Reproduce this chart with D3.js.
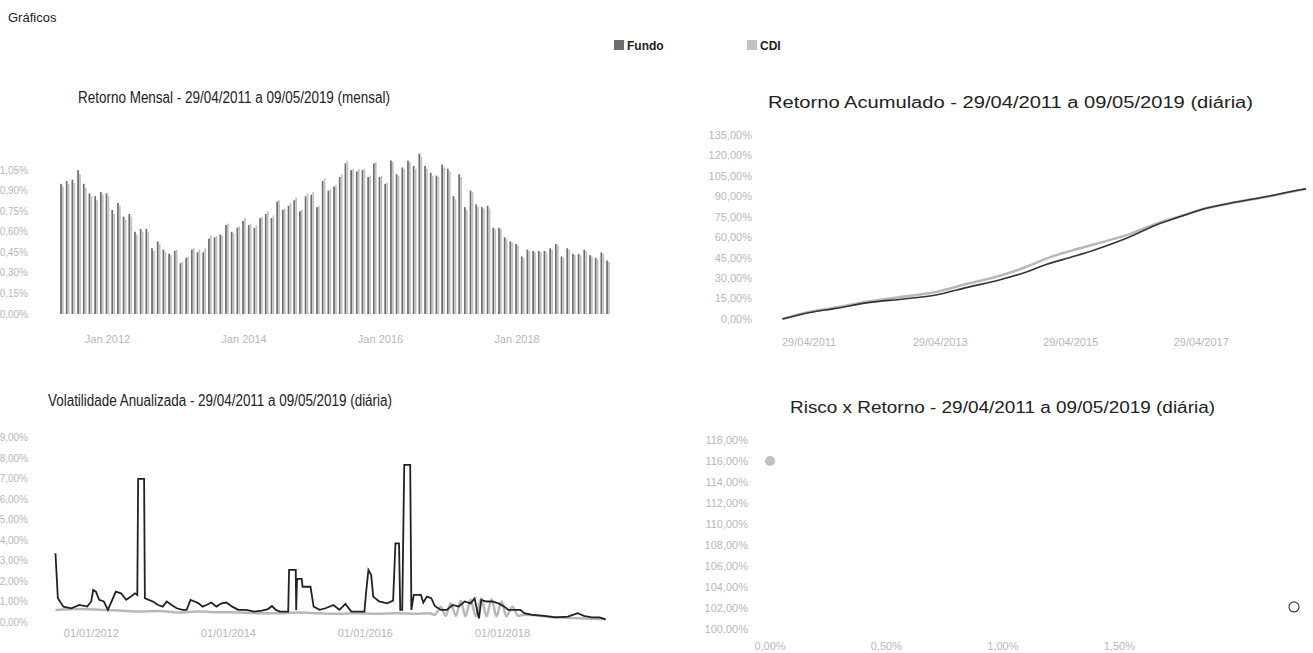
<!DOCTYPE html>
<html>
<head>
<meta charset="utf-8">
<script src="https://cdn.jsdelivr.net/npm/d3@7"></script>
<style>
  body { margin: 0; background: #fff; }
  text { font-family: "Liberation Sans", Arial, sans-serif; }
</style>
</head>
<body>
<svg id="page" width="1313" height="653"></svg>
<script>

// series names + colours (legend)
var seriesNames = ["Fundo", "CDI"];
var seriesColors = {"Fundo": "#6e6e6e", "CDI": "#c2c2c2"};

// ---------- retorno mensal (mai/2011 .. mai/2019), % ----------
var mensalFundo = [
  0.95, 0.97, 0.98, 1.05, 0.95, 0.88, 0.86, 0.89,
  0.88, 0.76, 0.81, 0.71, 0.73, 0.60, 0.62, 0.62, 0.48, 0.53, 0.47, 0.44,
  0.46, 0.37, 0.41, 0.47, 0.45, 0.45, 0.55, 0.56, 0.58, 0.65, 0.60, 0.63,
  0.68, 0.65, 0.63, 0.70, 0.73, 0.70, 0.82, 0.76, 0.79, 0.83, 0.75, 0.86,
  0.87, 0.78, 0.97, 0.90, 0.93, 1.00, 1.10, 1.05, 1.04, 1.05, 1.00, 1.10,
  1.00, 0.95, 1.12, 1.02, 1.07, 1.12, 1.08, 1.17, 1.08, 1.03, 1.01, 1.09,
  1.06, 0.86, 1.02, 0.78, 0.90, 0.80, 0.78, 0.79, 0.63, 0.63, 0.56, 0.53,
  0.51, 0.42, 0.47, 0.46, 0.46, 0.46, 0.48, 0.51, 0.42, 0.48, 0.44, 0.44,
  0.47, 0.43, 0.41, 0.45, 0.39
];
var mensalCDI = [
  0.93, 0.95, 0.96, 1.02, 0.92, 0.86, 0.83, 0.87,
  0.86, 0.73, 0.79, 0.69, 0.71, 0.58, 0.60, 0.60, 0.46, 0.51, 0.45, 0.43,
  0.47, 0.38, 0.42, 0.48, 0.47, 0.48, 0.57, 0.57, 0.57, 0.66, 0.59, 0.64,
  0.70, 0.66, 0.65, 0.71, 0.75, 0.72, 0.83, 0.77, 0.81, 0.85, 0.76, 0.88,
  0.89, 0.79, 0.99, 0.91, 0.94, 1.02, 1.12, 1.06, 1.06, 1.06, 1.01, 1.11,
  1.01, 0.96, 1.11, 1.01, 1.06, 1.11, 1.06, 1.15, 1.06, 1.01, 1.00, 1.07,
  1.04, 0.84, 1.00, 0.76, 0.89, 0.78, 0.77, 0.77, 0.62, 0.62, 0.55, 0.52,
  0.50, 0.41, 0.46, 0.45, 0.45, 0.45, 0.47, 0.50, 0.41, 0.47, 0.43, 0.43,
  0.46, 0.42, 0.40, 0.44, 0.38
];
var mensalTicks = [0, 0.15, 0.30, 0.45, 0.60, 0.75, 0.90, 1.05];
var mensalXLabels = ["Jan 2012", "Jan 2014", "Jan 2016", "Jan 2018"];

// ---------- retorno acumulado (%), datas em anos decimais ----------
var acumT     = [2011.33, 2011.73, 2012.15, 2012.64, 2013.19, 2013.68, 2014.16, 2014.65, 2015.08, 2015.38, 2015.75, 2016.11, 2016.60, 2017.09, 2017.45, 2017.82, 2018.18, 2018.73, 2019.31, 2019.35];
var acumFundo = [0, 4.6, 7.8, 12.0, 14.7, 17.6, 23.2, 28.6, 34.7, 40.1, 45.3, 50.6, 59.2, 69.7, 75.6, 81.2, 84.9, 89.7, 95.2, 95.5];
var acumCDI   = [0, 5.1, 8.4, 12.8, 16.5, 19.8, 25.8, 31.5, 38.5, 44.5, 50.0, 54.8, 61.5, 70.5, 75.8, 81.2, 84.8, 89.5, 95.0, 95.3];
var acumTicks = [0, 15, 30, 45, 60, 75, 90, 105, 120, 135];
var acumXLabels = ["29/04/2011", "29/04/2013", "29/04/2015", "29/04/2017"];

// ---------- volatilidade anualizada (%) ----------
var volFundoT = [2011.330, 2011.365, 2011.446, 2011.562, 2011.678, 2011.794, 2011.852, 2011.881, 2011.921, 2011.968,
  2012.037, 2012.095, 2012.159, 2012.211, 2012.287, 2012.362, 2012.431, 2012.489, 2012.524, 2012.536,
  2012.623, 2012.634, 2012.692, 2012.750, 2012.826, 2012.895, 2012.953, 2013.023, 2013.098, 2013.185,
  2013.243, 2013.301, 2013.359, 2013.417, 2013.475, 2013.533, 2013.602, 2013.678, 2013.753, 2013.823,
  2013.910, 2013.997, 2014.113, 2014.229, 2014.344, 2014.431, 2014.489, 2014.547, 2014.605, 2014.692,
  2014.727, 2014.739, 2014.837, 2014.843, 2014.855, 2014.924, 2014.936, 2015.052, 2015.098, 2015.185,
  2015.272, 2015.388, 2015.475, 2015.562, 2015.649, 2015.736, 2015.840, 2015.863, 2015.898, 2015.939,
  2015.968, 2016.055, 2016.171, 2016.258, 2016.292, 2016.344, 2016.362, 2016.391, 2016.420, 2016.507,
  2016.524, 2016.559, 2016.663, 2016.698, 2016.750, 2016.814, 2016.866, 2016.953, 2017.040, 2017.127,
  2017.214, 2017.301, 2017.388, 2017.446, 2017.492, 2017.510, 2017.544, 2017.620, 2017.707, 2017.794,
  2017.881, 2017.939, 2018.026, 2018.113, 2018.171, 2018.287, 2018.460, 2018.634, 2018.808, 2018.953,
  2019.040, 2019.156, 2019.272, 2019.359];
var volFundo = [3.35, 1.16, 0.75, 0.67, 0.83, 0.75, 1.00, 1.56, 1.48, 1.08,
  1.00, 0.59, 1.08, 1.48, 1.40, 1.08, 1.24, 1.40, 1.32, 6.98,
  6.98, 1.16, 1.08, 1.00, 0.83, 0.75, 1.00, 0.83, 0.67, 0.59,
  0.59, 1.08, 1.00, 0.91, 0.75, 0.83, 0.95, 0.75, 0.91, 0.95,
  0.75, 0.59, 0.59, 0.51, 0.56, 0.63, 0.78, 0.59, 0.51, 0.51,
  0.51, 2.54, 2.54, 0.59, 2.10, 2.10, 1.72, 1.72, 0.75, 0.59,
  0.67, 0.83, 0.59, 0.88, 0.51, 0.51, 0.51, 1.40, 2.54, 2.29,
  1.24, 1.00, 0.91, 1.04, 3.84, 3.84, 0.59, 0.59, 7.66, 7.66,
  0.59, 1.32, 1.32, 0.95, 1.24, 1.16, 0.78, 0.59, 0.59, 0.83,
  0.75, 1.00, 0.91, 1.16, 0.43, 0.18, 1.08, 1.00, 1.00, 0.91,
  0.75, 0.59, 0.59, 0.59, 0.43, 0.35, 0.30, 0.23, 0.26, 0.43,
  0.30, 0.23, 0.23, 0.13];
var volCDIT = [2011.330, 2011.678, 2012.026, 2012.258, 2012.547, 2012.837, 2013.127, 2013.417, 2013.707, 2013.997,
  2014.287, 2014.576, 2014.866, 2015.156, 2015.446, 2015.736, 2016.026, 2016.316, 2016.605, 2016.779,
  2016.866, 2016.953, 2017.023, 2017.098, 2017.173, 2017.243, 2017.313, 2017.388, 2017.463, 2017.544,
  2017.620, 2017.695, 2017.765, 2017.840, 2017.910, 2017.997, 2018.084, 2018.171, 2018.634, 2019.359];
var volCDI = [0.59, 0.63, 0.59, 0.56, 0.51, 0.54, 0.46, 0.51, 0.48, 0.46,
  0.43, 0.43, 0.46, 0.43, 0.40, 0.43, 0.40, 0.43, 0.40, 0.43,
  0.35, 0.75, 0.30, 0.91, 0.30, 1.04, 0.28, 1.08, 0.28, 1.16,
  0.28, 1.11, 0.28, 1.00, 0.28, 0.75, 0.30, 0.35, 0.23, 0.13];
var volTicks = [0, 1, 2, 3, 4, 5, 6, 7, 8, 9];
var volXLabels = ["01/01/2012", "01/01/2014", "01/01/2016", "01/01/2018"];

// ---------- risco x retorno ----------
var riscoNames = ["CDI", "Fundo"];
var riscoX = [0.00, 2.25];     // volatilidade %
var riscoY = [116.0, 102.1];   // retorno %
var riscoYTicks = [100, 102, 104, 106, 108, 110, 112, 114, 116, 118];
var riscoXTicks = [0, 0.5, 1.0, 1.5];

var titles = [
  "Retorno Mensal - 29/04/2011 a 09/05/2019 (mensal)",
  "Retorno Acumulado - 29/04/2011 a 09/05/2019 (diária)",
  "Volatilidade Anualizada - 29/04/2011 a 09/05/2019 (diária)",
  "Risco x Retorno - 29/04/2011 a 09/05/2019 (diária)"
];

var labelColor = "#b8b8b8";
var svg = d3.select("#page");

// decimal year -> Date
function decYear(d) {
  var y = Math.floor(d);
  var a = new Date(y, 0, 1).getTime(), b = new Date(y + 1, 0, 1).getTime();
  return new Date(a + (d - y) * (b - a));
}
var pct = function(dec) {
  return function(v) { return d3.format("." + dec + "f")(v).replace(".", ",") + "%"; };
};

// header
svg.append("text").attr("x", 8).attr("y", 22)
  .style("font-size", "13px").style("fill", "#222").text("Gráficos");

// legend
var legX = [614, 747];
seriesNames.forEach(function(n, i) {
  svg.append("rect").attr("x", legX[i]).attr("y", 40).attr("width", 10).attr("height", 10)
    .style("fill", seriesColors[n]);
  svg.append("text").attr("x", legX[i] + 13).attr("y", 50)
    .style("font-size", "12px").style("font-weight", "bold").style("fill", "#222").text(n);
});

// titles: [x start, baseline, width]
var titlePos = [[78, 103, 312], [768, 108, 485], [48, 406, 344], [790, 413, 425]];
titles.forEach(function(t, i) {
  svg.append("text").attr("x", titlePos[i][0]).attr("y", titlePos[i][1])
    .attr("textLength", titlePos[i][2]).attr("lengthAdjust", "spacingAndGlyphs")
    .style("font-size", "16px").style("fill", "#222").text(t);
});

function yLabels(g, scale, ticks, x, fmt, size) {
  g.selectAll(null).data(ticks).enter().append("text")
    .attr("x", x).attr("y", function(d) { return scale(d); }).attr("dy", "0.35em")
    .attr("text-anchor", "end").style("font-size", (size || 11) + "px").style("fill", labelColor)
    .text(fmt);
}

// ================= Retorno Mensal =================
var months = d3.timeMonth.range(new Date(2011, 4, 1), new Date(2019, 5, 1));
var mensal = months.map(function(m, i) { return {m: m, Fundo: mensalFundo[i], CDI: mensalCDI[i]}; });

var xM = d3.scaleBand().domain(d3.range(months.length)).range([60, 610]).paddingInner(0.3);
var xMs = d3.scaleBand().domain(seriesNames).range([0, xM.bandwidth()]).padding(0.08);
var yM = d3.scaleLinear().domain([0, 1.2]).range([314, 314 - 1.2 * 137]);

var gM = svg.append("g");
yLabels(gM, yM, mensalTicks, 28, pct(2), 10);

gM.selectAll(".grp").data(mensal).enter().append("g")
  .attr("transform", function(d, i) { return "translate(" + xM(i) + ",0)"; })
  .selectAll("rect").data(function(d) { return seriesNames.map(function(n) { return {n: n, v: d[n]}; }); })
  .enter().append("rect")
  .attr("x", function(d) { return xMs(d.n); })
  .attr("width", xMs.bandwidth())
  .attr("y", function(d) { return yM(d.v); })
  .attr("height", function(d) { return yM(0) - yM(d.v); })
  .style("fill", function(d) { return seriesColors[d.n]; });

var mTickIdx = [8, 32, 56, 80]; // Jan 2012, 2014, 2016, 2018
gM.selectAll(".xl").data(mensalXLabels).enter().append("text")
  .attr("x", function(d, i) { return xM(mTickIdx[i]) + xM.bandwidth() / 2; })
  .attr("y", 343).attr("text-anchor", "middle")
  .style("font-size", "11px").style("fill", labelColor).text(function(d) { return d; });

// ================= Retorno Acumulado =================
var tStart = new Date(2011, 3, 29), tEnd = new Date(2019, 4, 9);
var xA = d3.scaleTime().domain([tStart, tEnd]).range([782, 1306]);
var yA = d3.scaleLinear().domain([0, 135]).range([319, 135]);
var gA = svg.append("g");
yLabels(gA, yA, acumTicks, 752, pct(2));

var lineA = d3.line().x(function(d) { return xA(decYear(d[0])); }).y(function(d) { return yA(d[1]); })
  .curve(d3.curveMonotoneX);
gA.append("path").attr("d", lineA(acumT.map(function(t, i) { return [t, acumCDI[i]]; })))
  .style("fill", "none").style("stroke", "#b8b8b8").style("stroke-width", 2.5);
gA.append("path").attr("d", lineA(acumT.map(function(t, i) { return [t, acumFundo[i]]; })))
  .style("fill", "none").style("stroke", "#333").style("stroke-width", 1.6);

var aTicks = [new Date(2011, 3, 29), new Date(2013, 3, 29), new Date(2015, 3, 29), new Date(2017, 3, 29)];
gA.selectAll(".xl").data(acumXLabels).enter().append("text")
  .attr("x", function(d, i) { return xA(aTicks[i]); }).attr("y", 346)
  .style("font-size", "11px").style("fill", labelColor).text(function(d) { return d; });

// ================= Volatilidade =================
var xV = d3.scaleTime().domain([tStart, tEnd]).range([55, 605]);
var yV = d3.scaleLinear().domain([0, 9]).range([622, 622 - 9 * 20.5]);
var gV = svg.append("g");
yLabels(gV, yV, volTicks, 28, pct(2), 10);

var lineV = d3.line().x(function(d) { return xV(decYear(d[0])); }).y(function(d) { return yV(d[1]); });
gV.append("path").attr("d", lineV.curve(d3.curveMonotoneX)(volCDIT.map(function(t, i) { return [t, volCDI[i]]; })))
  .style("fill", "none").style("stroke", "#b8b8b8").style("stroke-width", 2.5);
gV.append("path").attr("d", lineV.curve(d3.curveLinear)(volFundoT.map(function(t, i) { return [t, volFundo[i]]; })))
  .style("fill", "none").style("stroke", "#222").style("stroke-width", 1.8);

var vTicks = [new Date(2012, 0, 1), new Date(2014, 0, 1), new Date(2016, 0, 1), new Date(2018, 0, 1)];
gV.selectAll(".xl").data(volXLabels).enter().append("text")
  .attr("x", function(d, i) { return xV(vTicks[i]) - 10; }).attr("y", 637).attr("text-anchor", "middle")
  .style("font-size", "11px").style("fill", labelColor).text(function(d) { return d; });

// ================= Risco x Retorno =================
var xS = d3.scaleLinear().domain([0, 2.25]).range([770, 1294]);
var yS = d3.scaleLinear().domain([100, 118]).range([629, 440]);
var gS = svg.append("g");
yLabels(gS, yS, riscoYTicks, 748, pct(2));
gS.selectAll(".xl").data(riscoXTicks).enter().append("text")
  .attr("x", function(d) { return xS(d); }).attr("y", 650).attr("text-anchor", "middle")
  .style("font-size", "11px").style("fill", labelColor).text(pct(2));

gS.selectAll("circle").data(riscoNames).enter().append("circle")
  .attr("cx", function(d, i) { return xS(riscoX[i]); })
  .attr("cy", function(d, i) { return yS(riscoY[i]); })
  .attr("r", 5)
  .style("fill", function(d) { return d == "CDI" ? seriesColors.CDI : "#fff"; })
  .style("stroke", function(d) { return d == "CDI" ? "none" : "#444"; })
  .style("stroke-width", 1.2);

</script>
</body>
</html>
